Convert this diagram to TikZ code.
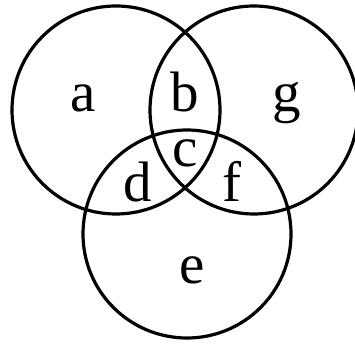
\documentclass[tikz,border=0pt]{standalone}
\usepackage{fontspec}
\setmainfont{Liberation Serif}
\usepackage{tikz}
\usetikzlibrary{positioning}

\tikzset{
  setring/.style={draw, circle, line width=3.2pt, minimum size=208pt, inner sep=0pt},
  region/.style={font=\fontsize{57}{60}\selectfont, inner sep=0pt, anchor=base}
}

\begin{document}
\begin{tikzpicture}[x=1pt, y=-1pt]
    \useasboundingbox (0,0) rectangle (355,344);
    % the three sets
    \node[setring] (setL) at (116,110) {};
    \node[setring] (setR) at (254,110) {};
    \node[setring] (setB) at (187,234) {};
    % region labels, placed on their baselines
    \node[region] (la) at (83,112) {a};
    \node[region] (lb) at (185,112) {b};
    \node[region] (lg) at (287,112) {g};
    \node[region] (lc) at (185,167) {c};
    \node[region] (ld) at (138,202) {d};
    \node[region] (lf) at (232,202) {f};
    \node[region] (le) at (192,283) {e};
  \end{tikzpicture}
\end{document}
